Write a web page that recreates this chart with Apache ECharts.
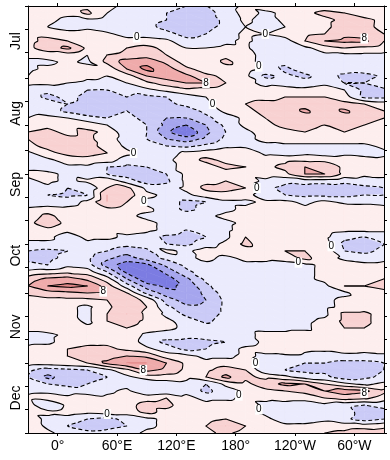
<!DOCTYPE html>
<html><head><meta charset="utf-8">
<script src="https://cdn.jsdelivr.net/npm/echarts@6/dist/echarts.min.js"></script>
<style>html,body{margin:0;padding:0;background:#fff}#c{width:390px;height:460px}</style>
</head><body><div id="c"></div>
<script>
// ---- data ----
const lons = [-30,-10,10,30,50,70,90,110,130,150,170,190,210,230,250,270,290,310,330];
const days = [0,3,6,9,12,15,18,21,24,27,30,33,36,39,42,45,48,51,54,57,60,63,66,69,72,75,78,81,84,87,90,93,96,99,102,105,108,111,114,117,120,123,126,129,132,135,138,141,144,147,150,153,156,159,162,165,168,171,174,177,180,183];
const field = [
[3,3,2,3,1,-1,-2,-3,-4,-4,-2,1,2,1,1,2,3,2,3],
[3,2,1,5,0,-2,-3,-4,-5,-5,-3,2,-1,1,3,5,4,2,2],
[2,1,-1,-1,-2,-2,-3,-4,-6,-6,-3,1,-2,1,2,3,5,5,3],
[2,0,-2,-1,-3,-4,-3,-5,-6,-5,-3,0,-2,0,2,3,6,5,3],
[3,3,2,2,1,-2,-2,-3,-5,-4,-2,1,0,2,3,4,7,6,4],
[3,5,4,3,3,2,2,1,-3,-3,-1,1,-2,-2,4,8,9,9,4],
[3,6,9,3,2,4,5,3,0,0,1,1,-4,-4,-1,2,4,3,2],
[1,2,2,0,4,5,6,4,2,1,3,2,-2,-3,-1,-1,-1,-1,-1],
[-1,-1,1,-1,5,10,11,7,2,1,5,2,-2,-3,-2,-1,-2,-2,-1],
[-1,1,2,2,1,8,13,10,5,2,2,2,-1,-5,-2,-1,-2,-1,0],
[0,3,3,1,0,2,8,10,9,5,3,1,-5,-3,-5,-2,-5,-6,-3],
[1,1,0,-1,-1,0,3,6,8,8,4,1,-1,-2,-2,-1,-4,-4,-1],
[-2,-3,-2,-4,-4,-3,-1,1,3,2,1,2,1,2,1,2,0,-5,-5],
[-2,-5,-3,-5,-5,-4,-5,-4,-2,0,1,3,3,4,4,4,2,-5,-5],
[-1,-2,-4,-5,-5,-5,-6,-5,-3,-1,2,4,5,5,6,5,5,4,2],
[-1,-2,-5,-8,-5,-4,-5,-7,-6,-3,1,3,5,5,9,5,9,5,4],
[0,1,0,-2,-4,-3,-5,-8,-8,-5,-2,1,4,5,5,5,5,5,4],
[2,3,3,2,0,-2,-4,-9,-12,-8,-3,1,3,5,5,4,5,4,3],
[4,5,3,5,3,-3,-4,-11,-16,-9,-4,-1,2,3,4,3,4,3,3],
[4,5,5,5,2,-2,-4,-8,-10,-7,-3,-1,1,2,2,2,2,2,2],
[3,5,5,5,3,-1,-3,-4,-5,-3,-1,-1,-1,-1,-1,-1,-1,-1,1],
[-1,3,5,5,4,1,-2,-2,1,2,3,3,-1,-2,-1,-2,-1,-2,-1],
[-2,-1,2,3,2,-2,-3,-1,2,5,3,3,2,3,3,3,2,2,1],
[-1,-2,-1,-1,-4,-5,-4,-1,1,2,5,4,3,5,8,7,3,3,2],
[1,1,-1,-3,-4,-6,-7,-4,1,2,2,1,2,3,8,8,3,1,1],
[-1,1,-1,1,3,-2,-6,-5,1,3,4,2,-1,-3,-2,-2,-3,-2,-1],
[-2,-1,-4,-4,4,5,-1,-2,1,5,5,4,-3,-5,-6,-7,-6,-5,-4],
[-4,-4,-5,-4,8,6,1,-1,-1,2,3,2,-3,-4,-5,-5,-5,-4,-4],
[-4,-3,-2,1,8,4,-1,-2,-5,-4,-1,-1,1,1,-1,1,-1,-1,-2],
[1,2,1,2,3,2,1,-2,-5,-3,-1,1,3,2,1,3,3,2,2],
[2,5,2,1,2,1,-1,-2,-2,-1,1,2,3,2,3,3,3,3,2],
[3,6,3,1,2,2,1,-1,-1,-2,-1,1,2,3,3,3,2,2,3],
[2,3,1,1,1,2,1,-1,-4,-4,-1,2,3,2,1,2,1,1,1],
[1,1,-2,1,1,-1,-2,-5,-6,-4,-1,4,1,2,2,1,-3,-4,-3],
[-1,-1,-2,-1,-2,-3,-2,-4,-5,-2,1,5,2,3,2,2,-5,-6,-4],
[-4,-5,-4,-2,-4,-6,-5,1,-1,2,2,2,2,4,4,3,-4,-5,-3],
[-5,-5,-3,-3,-7,-10,-6,-3,-1,1,-1,1,1,2,5,2,-1,-2,-1],
[-3,-4,-1,-2,-10,-14,-13,-7,-3,-1,-2,-1,-1,-2,-1,1,2,1,1],
[1,2,3,2,-4,-13,-16,-11,-5,-2,-1,-1,-1,-2,-1,1,3,3,2],
[6,9,10,7,2,-8,-15,-14,-9,-3,-1,-1,-2,-2,-1,1,3,3,4],
[8,12,13,12,6,-2,-10,-13,-11,-5,-1,-1,-2,-2,-1,-1,4,4,5],
[5,6,7,8,7,4,-5,-10,-11,-7,-2,-1,-1,-2,-2,-2,-1,3,3],
[2,3,3,3,4,6,3,-6,-10,-8,-3,-1,-2,-2,-1,-1,1,2,2],
[2,2,1,-1,3,7,4,-3,-7,-7,-3,-1,-2,-3,-2,-1,1,2,2],
[1,2,1,-1,4,8,3,-1,-5,-6,-3,-1,-2,-2,-2,-1,5,5,2],
[2,2,2,-1,4,6,3,1,-2,-5,-2,-1,-2,-2,-1,1,5,5,2],
[1,2,2,1,3,4,2,1,-1,-2,-1,-1,-1,-1,-1,2,4,4,2],
[-1,-1,1,2,2,3,-1,-2,-3,-2,-2,-1,1,1,2,2,2,1,2],
[-1,-1,2,3,3,3,-2,-5,-5,-5,-4,-2,1,2,1,3,3,2,2],
[1,2,4,5,5,3,1,-2,-5,-4,-2,1,2,4,1,1,3,2,2],
[2,3,4,5,6,8,7,2,1,-1,-1,1,-1,-1,-1,-2,-2,-2,-1],
[2,2,3,4,9,12,12,8,3,1,2,2,-2,-3,-4,-4,-5,-5,-4],
[-3,-6,-5,-4,-1,3,9,7,3,3,6,4,-3,-4,-5,-5,-8,-6,-4],
[-4,-9,-6,-5,-4,-1,2,2,1,4,9,5,3,1,-2,-3,-6,-5,-3],
[-3,-4,-5,-4,-3,-2,-4,-2,-1,-4,1,3,6,9,8,4,1,-1,1],
[-1,-1,-2,-3,-1,1,-4,-3,-1,-5,-2,1,3,4,5,8,10,9,5],
[1,2,1,3,1,2,3,4,1,-1,-1,1,1,2,2,4,6,5,2],
[2,-4,1,2,1,3,5,5,2,1,2,2,-1,-2,-3,-1,-3,-4,-3],
[1,1,2,1,2,2,5,3,1,1,2,1,-1,-3,-3,-2,-2,-6,-5],
[2,-1,-2,-4,-5,-3,-1,1,2,2,4,2,1,-2,-2,-1,-3,-6,-4],
[3,-1,-4,-6,-5,-4,-1,1,2,4,8,4,1,1,1,2,2,2,3],
[4,1,-2,-3,-3,-2,1,2,2,3,5,2,1,2,2,4,5,7,6]
];
const lonTicks = [0,60,120,180,240,300];
const lonLabels = ['0°','60°E','120°E','180°','120°W','60°W'];
const monthMid = [15,46,76.5,107,137.5,168];
const monthNames = ['Jul','Aug','Sep','Oct','Nov','Dec'];
const dayTicks = [0,10,20,31,41,51,62,72,82,92,102,112,123,133,143,153,163,173,183];
const levels = [-16,-12,-8,-4,0,4,8,12,16];
const bandEdges = [-12,-8,-4,0,4,8,12];
const bandColors = ['#7c7ce2','#a6a6ee','#cbcbf7','#ebebfd','#fdeeee','#f8d2d2','#efabab','#e38787'];

// ---- contour geometry from the grid ----
const EPS = 0.013;
const nr = days.length, nc = lons.length;
function V(i,j){ return {x:lons[j], y:days[i], v:field[i][j], id:i*nc+j}; }
const tris = [];
for (let i=0;i<nr-1;i++) for (let j=0;j<nc-1;j++){
  const a=V(i,j), b=V(i,j+1), c=V(i+1,j), d=V(i+1,j+1);
  tris.push([a,b,d]); tris.push([a,d,c]);
}
function clip(poly, level, above){
  const out=[];
  for (let k=0;k<poly.length;k++){
    const a=poly[k], b=poly[(k+1)%poly.length];
    const ia = above ? a.v>=level : a.v<=level;
    const ib = above ? b.v>=level : b.v<=level;
    if (ia) out.push(a);
    if (ia!==ib){
      const t=(level-a.v)/(b.v-a.v);
      out.push({x:a.x+t*(b.x-a.x), y:a.y+t*(b.y-a.y), v:level});
    }
  }
  return out;
}
const polys=[];
tris.forEach(tr=>{
  for (let k=0;k<bandColors.length;k++){
    let p=tr;
    if (k>0) p=clip(p,bandEdges[k-1]-EPS,true);
    if (p.length>=3 && k<bandColors.length-1) p=clip(p,bandEdges[k]-EPS,false);
    if (p.length>=3) polys.push({pts:p.map(q=>[q.x,q.y]), color:bandColors[k]});
  }
});
function segsFor(L0){
  const L=L0-EPS;
  const segs=[];
  tris.forEach(tr=>{
    const up=tr.map(q=>q.v>=L);
    if (up[0]===up[1] && up[1]===up[2]) return;
    const pts=[];
    for (let k=0;k<3;k++){
      const a=tr[k], b=tr[(k+1)%3];
      if (up[k]!==up[(k+1)%3]){
        const t=(L-a.v)/(b.v-a.v);
        pts.push({key:Math.min(a.id,b.id)+'_'+Math.max(a.id,b.id), p:[a.x+t*(b.x-a.x), a.y+t*(b.y-a.y)]});
      }
    }
    if (pts.length===2) segs.push({k1:pts[0].key,p1:pts[0].p,k2:pts[1].key,p2:pts[1].p});
  });
  return segs;
}
function chain(segs){
  const map=new Map();
  segs.forEach((s,i)=>{[s.k1,s.k2].forEach(k=>{ if(!map.has(k)) map.set(k,[]); map.get(k).push(i); });});
  const used=new Array(segs.length).fill(false);
  const lines=[];
  function walk(s,key){
    const f=segs[s];
    const pts=[key===f.k1?f.p1:f.p2];
    while (s!==-1 && !used[s]){
      used[s]=true;
      const g=segs[s];
      const ok = key===g.k1 ? g.k2 : g.k1;
      pts.push(key===g.k1 ? g.p2 : g.p1);
      key=ok;
      const cand=map.get(key).filter(j=>!used[j]);
      s=cand.length?cand[0]:-1;
    }
    return pts;
  }
  for (const [k,arr] of map){ if (arr.length===1 && !used[arr[0]]) lines.push(walk(arr[0],k)); }
  segs.forEach((s,i)=>{ if(!used[i]) lines.push(walk(i,s.k1)); });
  return lines;
}
const contours=[];
levels.forEach(L=>{ chain(segsFor(L)).forEach(pts=>contours.push({level:L, pts})); });

// ---- chart ----
const chart = echarts.init(document.getElementById('c'), null, {renderer:'canvas'});
const font = 'Liberation Sans, Arial, sans-serif';
const tickStyle = {color:'#000', width:1};
chart.setOption({
  animation:false,
  backgroundColor:'#fff',
  grid:{left:28, right:6, top:6, bottom:27, show:false},
  xAxis:[
    {type:'value', min:-30, max:330, position:'bottom', z:10,
     axisLine:{show:true, onZero:false, lineStyle:tickStyle},
     axisTick:{show:true, inside:false, length:3, customValues:lonTicks, lineStyle:tickStyle},
     axisLabel:{customValues:lonTicks, formatter:v=>lonLabels[lonTicks.indexOf(v)], color:'#000', fontSize:14, fontFamily:font, margin:6},
     splitLine:{show:false}},
    {type:'value', min:-30, max:330, position:'top', z:10,
     axisLine:{show:true, onZero:false, lineStyle:tickStyle},
     axisTick:{show:true, inside:false, length:3, customValues:lonTicks, lineStyle:tickStyle},
     axisLabel:{show:false}, splitLine:{show:false}}
  ],
  yAxis:[
    {type:'value', min:0, max:183, inverse:true, position:'left', z:10,
     axisLine:{show:true, onZero:false, lineStyle:tickStyle},
     axisTick:{show:true, inside:false, length:3, customValues:dayTicks, lineStyle:tickStyle},
     axisLabel:{customValues:monthMid, formatter:v=>monthNames[monthMid.indexOf(v)], rotate:90, color:'#000', fontSize:14, fontFamily:font, margin:5},
     splitLine:{show:false}},
    {type:'value', min:0, max:183, inverse:true, position:'right', z:10,
     axisLine:{show:true, onZero:false, lineStyle:tickStyle},
     axisTick:{show:true, inside:false, length:3, customValues:dayTicks, lineStyle:tickStyle},
     axisLabel:{show:false}, splitLine:{show:false}}
  ],
  series:[
    {type:'custom', name:'fill', xAxisIndex:0, yAxisIndex:0, clip:true, progressive:0, z:1,
     encode:{x:0,y:1},
     data: polys.map((p,i)=>[p.pts[0][0], p.pts[0][1], i]),
     renderItem:(params,api)=>{
       const p=polys[api.value(2)];
       return {type:'polygon', shape:{points:p.pts.map(q=>api.coord(q))},
               style:{fill:p.color, stroke:p.color, lineWidth:0.6}};
     }},
    {type:'custom', name:'lines', xAxisIndex:0, yAxisIndex:0, clip:true, progressive:0, z:3,
     encode:{x:0,y:1},
     data: contours.map((c,i)=>[c.pts[0][0], c.pts[0][1], i]),
     renderItem:(params,api)=>{
       const c=contours[api.value(2)];
       const px=c.pts.map(q=>api.coord(q));
       let tot=0; const cum=[0];
       for (let k=1;k<px.length;k++){ tot+=Math.hypot(px[k][0]-px[k-1][0], px[k][1]-px[k-1][1]); cum.push(tot); }
       if (tot<5) return null;
       const n=px.length;
       const closed = Math.hypot(px[0][0]-px[n-1][0], px[0][1]-px[n-1][1])<0.5;
       if (closed){
         let area=0;
         for (let k=0;k<n-1;k++) area += px[k][0]*px[k+1][1]-px[k+1][0]*px[k][1];
         if (Math.abs(area/2)<10) return null;
       }
       const children=[{type:'polyline', shape:{points:px, smooth:0.3},
         style:{stroke:'#000', lineWidth:1.1, fill:null, lineDash: c.level<0?[4,2.5]:null}}];
       if ((c.level===0 || c.level===8) && tot>80){
         let k=1; while (k<cum.length-1 && cum[k]<tot/2) k++;
         const q=px[k];
         children.push({type:'text', z2:20, style:{text:String(c.level), x:q[0], y:q[1], align:'center', verticalAlign:'middle',
           fill:'#000', font:'10px '+font, backgroundColor:'#fff', padding:[0,1]}});
       }
       return {type:'group', children};
     }}
  ]
});
</script></body></html>
